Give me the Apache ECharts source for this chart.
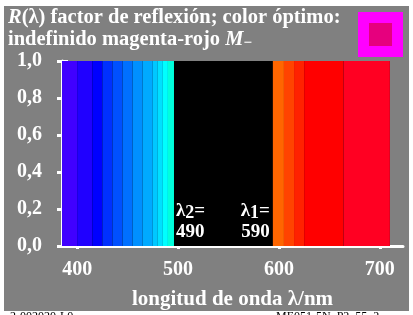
<!DOCTYPE html>
<html>
<head>
<meta charset="utf-8">
<script src="https://cdn.jsdelivr.net/npm/echarts@6/dist/echarts.min.js"></script>
<style>
  html, body { margin: 0; padding: 0; background: #fff; }
  #chart { width: 413px; height: 315px; }
</style>
</head>
<body>
<div id="chart"></div>
<script>
// spectral bands (nm) and reflection factor of each band
const bandStart = [385, 400, 415, 425, 435, 445, 455, 465, 475, 480, 485, 490, 496, 594, 605, 615, 625, 664]
const bandEnd   = [400, 415, 425, 435, 445, 455, 465, 475, 480, 485, 490, 496, 594, 605, 615, 625, 664, 710]
const reflect   = [1, 1, 1, 1, 1, 1, 1, 1, 1, 1, 1, 1, 0, 1, 1, 1, 1, 1]
const xTicks = [400, 500, 600, 700]
const lambda2 = 490
const lambda1 = 590

// fill colour of each band
const bandColors = ['#4000ff', '#2000ff', '#0000ff', '#0030ff', '#0050ff', '#0070ff', '#0090ff', '#00aaff',
  '#00c8ff', '#00e0ff', '#00ffff', '#00ffdd', '#000000', '#ff6600', '#ff4400', '#ff2200', '#ff0000', '#ff0022']

const SERIF = '"Liberation Serif", "DejaVu Serif", serif'
const zeroBand = reflect.indexOf(0)

const chart = echarts.init(document.getElementById('chart'))

const axisCommon = {
  type: 'value', min: 385, max: 723,
  splitLine: { show: false },
}

chart.setOption({
  animation: false,
  backgroundColor: '#fff',
  grid: { left: 62, right: 10, top: 61, bottom: 63.5 },
  title: {
    left: 8, top: 7, padding: 0,
    text: '{i|R}(λ) factor de reflexión; color óptimo:\nindefinido magenta-rojo {i|M}{s|−}',
    textStyle: {
      color: '#fff', fontFamily: SERIF, fontWeight: 'bold', fontSize: 20.5, lineHeight: 22,
      rich: {
        i: { color: '#fff', fontFamily: SERIF, fontWeight: 'bold', fontStyle: 'italic', fontSize: 20.5, lineHeight: 22 },
        s: { color: '#fff', fontFamily: SERIF, fontWeight: 'bold', fontSize: 15, lineHeight: 22, padding: [6, 0, 0, 0] },
      },
    },
  },
  graphic: [
    { type: 'rect', z: -10, shape: { x: 4, y: 6, width: 405, height: 305 }, style: { fill: '#808080' } },
    { type: 'rect', shape: { x: 358, y: 12, width: 45, height: 45 }, style: { fill: '#ff00ff' } },
    { type: 'rect', shape: { x: 369, y: 23, width: 23, height: 23 }, style: { fill: '#e6007e' } },
    { type: 'text', x: 10, y: 311, style: { text: '2-002020-L0', fill: '#000', font: '12px ' + SERIF, verticalAlign: 'top' } },
    { type: 'text', x: 276, y: 311, style: { text: 'ME051-5N_P2_55_2', fill: '#000', font: '12px ' + SERIF, verticalAlign: 'top' } },
  ],
  xAxis: [
    {
      ...axisCommon,
      name: 'longitud de onda λ/nm', nameLocation: 'middle', nameGap: 43,
      nameTextStyle: { color: '#fff', fontFamily: SERIF, fontWeight: 'bold', fontSize: 21 },
      axisLine: { lineStyle: { color: '#fff', width: 3 } },
      axisTick: { inside: true, length: 6, customValues: xTicks, lineStyle: { color: '#fff', width: 3 } },
      axisLabel: {
        customValues: xTicks, margin: 14,
        color: '#fff', fontFamily: SERIF, fontWeight: 'bold', fontSize: 20,
      },
    },
    {
      ...axisCommon, position: 'bottom',
      axisLine: { show: false },
      axisTick: { inside: false, length: 3, customValues: xTicks, lineStyle: { color: '#fff', width: 3 } },
      axisLabel: { show: false },
    },
  ],
  yAxis: [
    {
      type: 'value', min: 0, max: 1, interval: 0.2, position: 'left',
      splitLine: { show: false },
      axisLine: { show: true, lineStyle: { color: '#fff', width: 3 } },
      axisTick: { show: true, length: 5, lineStyle: { color: '#fff', width: 3 } },
      axisLabel: {
        margin: 20, color: '#fff', fontFamily: SERIF, fontWeight: 'bold', fontSize: 20,
        formatter: v => v.toFixed(1).replace('.', ','),
      },
    },
    {
      type: 'value', min: 0, max: 1, interval: 0.2, position: 'left',
      splitLine: { show: false },
      axisLine: { show: false },
      axisTick: { show: true, inside: true, length: 6, lineStyle: { color: '#fff', width: 3 } },
      axisLabel: { show: false },
    },
  ],
  series: [
    {
      // black plot area behind the spectrum
      type: 'custom', z: 1, silent: true,
      data: [[bandStart[0], bandEnd[bandEnd.length - 1], 1]],
      renderItem(params, api) {
        const p0 = api.coord([api.value(0), api.value(2)])
        const p1 = api.coord([api.value(1), 0])
        return { type: 'rect', shape: { x: p0[0], y: p0[1], width: p1[0] - p0[0], height: p1[1] - p0[1] }, style: { fill: '#000' } }
      },
    },
    {
      type: 'custom', z: 2, silent: true,
      data: bandStart.map((s, i) => [s, bandEnd[i], reflect[i]]),
      renderItem(params, api) {
        const p0 = api.coord([api.value(0), api.value(2)])
        const p1 = api.coord([api.value(1), 0])
        return { type: 'rect', shape: { x: p0[0], y: p0[1], width: p1[0] - p0[0], height: p1[1] - p0[1] }, style: { fill: bandColors[params.dataIndex] } }
      },
    },
    {
      // wavelength limits written at the edges of the zero band
      type: 'custom', z: 3, silent: true,
      data: [[bandStart[zeroBand], 0], [bandEnd[zeroBand], 0]],
      renderItem(params, api) {
        const p = api.coord([api.value(0), api.value(1)])
        const left = params.dataIndex === 0
        const sub = left ? '2' : '1'
        const val = left ? lambda2 : lambda1
        return {
          type: 'text', x: p[0] + (left ? 2 : -3), y: p[1] - 3,
          style: {
            text: '{a|λ}{s|' + sub + '}{a|=}\n{a|' + val + '}',
            align: left ? 'left' : 'right', verticalAlign: 'bottom',
            fill: '#fff', font: 'bold 19px ' + SERIF,
            rich: {
              a: { fill: '#fff', font: 'bold 19px ' + SERIF, lineHeight: 21 },
              s: { fill: '#fff', font: 'bold 18px ' + SERIF, lineHeight: 21, padding: [4, 0, 0, 0] },
            },
          },
        }
      },
    },
  ],
})
</script>
</body>
</html>
